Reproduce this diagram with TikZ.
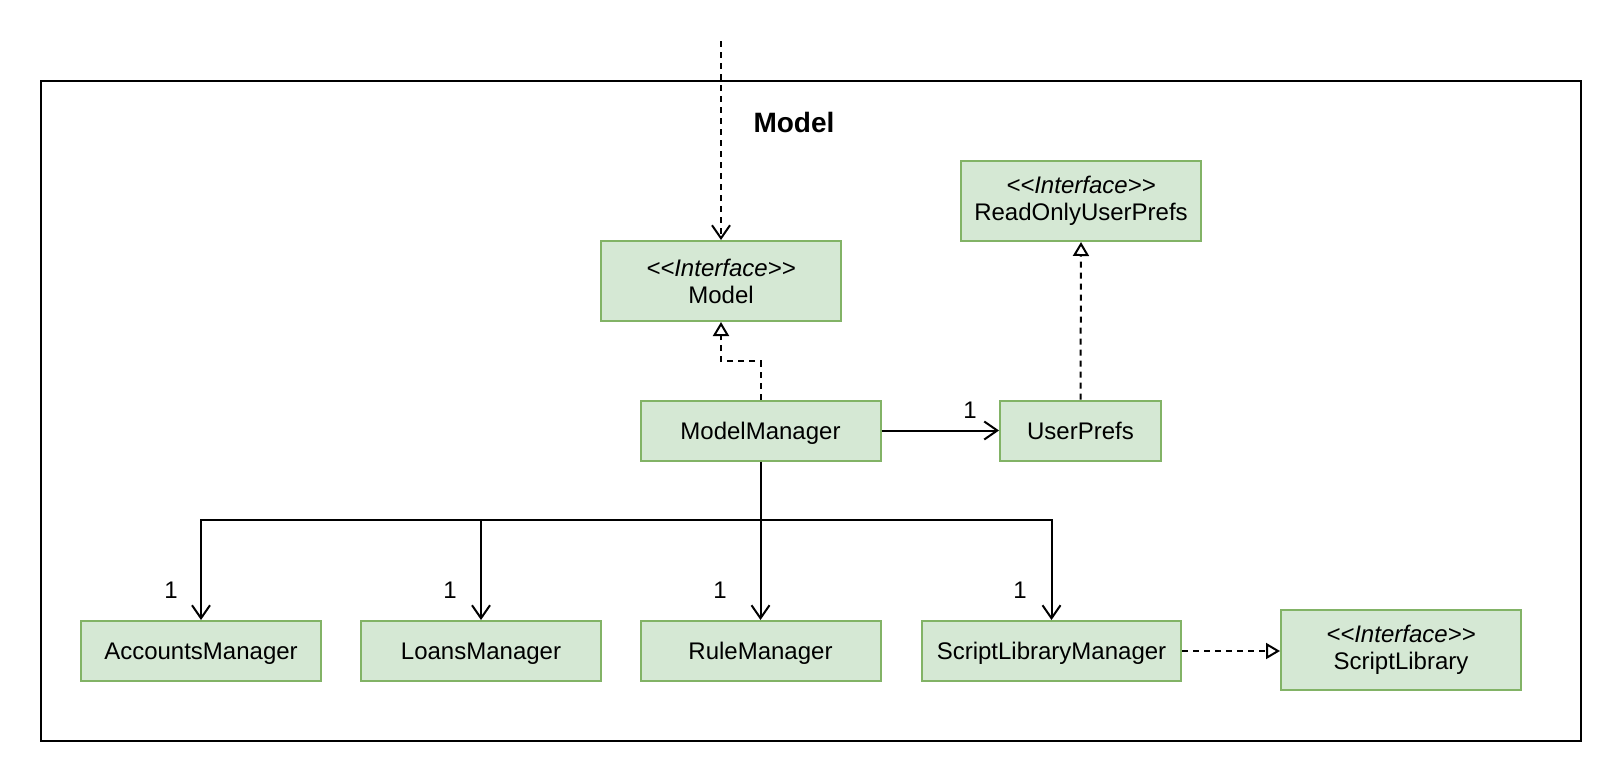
\documentclass[tikz,border=0pt]{standalone}
\usepackage{fontspec}
\setmainfont{Liberation Sans}
\usepackage{xcolor}
\usepackage{tikz}
\usetikzlibrary{arrows.meta,positioning}
\definecolor{boxfill}{HTML}{D5E8D4}
\definecolor{boxline}{HTML}{82B366}

\begin{document}
\begin{tikzpicture}[
          x=0.5pt, y=-0.5pt,
          every node/.style={font=\fontsize{12}{13.5}\selectfont},
          box/.style={draw=boxline, fill=boxfill, line width=1pt, minimum width=120pt, inner sep=0pt, align=center},
          cls/.style={box, minimum height=30pt, text height=11pt, text depth=2.4pt},
          iface/.style={box, minimum height=40pt},
          assoc/.style={line width=1pt, -{Straight Barb[length=6.5pt,width=9pt]}},
          dep/.style={assoc, dash pattern=on 3pt off 2.5pt},
          real/.style={line width=1pt, dash pattern=on 3pt off 2.5pt, -{Triangle[open,length=7pt,width=8pt,fill=white]}},
          mult/.style={inner sep=0pt}
      ]
        \useasboundingbox (0,0) rectangle (1622,782);
        \draw[line width=1pt] (41,81) rectangle (1581,741);
        \node[font=\fontsize{14}{16}\selectfont\bfseries] (title) at (794,122) {Model};

        % interfaces
        \node[iface] (model) at (721,281) {\textit{<{}<Interface>{}>}\\Model};
        \node[iface] (roprefs) at (1081,201) {\textit{<{}<Interface>{}>}\\ReadOnlyUserPrefs};
        \node[iface] (scriptlib) at (1401,650) {\textit{<{}<Interface>{}>}\\ScriptLibrary};

        % classes
        \node[cls] (mgr) at (760.5,430.5) {ModelManager};
        \node[cls, minimum width=80.5pt] (prefs) at (1080.5,430.5) {UserPrefs};
        \node[cls] (accounts) at (201,651) {AccountsManager};
        \node[cls] (loans) at (481,651) {LoansManager};
        \node[cls] (rule) at (760.5,651) {RuleManager};
        \node[cls, minimum width=129.5pt] (scriptmgr) at (1051.5,651) {ScriptLibraryManager};

        \coordinate (top) at (721,41);
        \coordinate (bend) at (721,361);
        \coordinate (bus) at (760.5,520);

        \draw[dep] (top) -- (model.north);
        \draw[real] (mgr.north) |- (bend) -- (model.south);
        \draw[real] (prefs.north) -- (roprefs.south);
        \draw[real] (scriptmgr.east) -- (scriptlib.west |- scriptmgr.east);
        \draw[assoc] (mgr.east) -- (prefs.west);
        \draw[assoc] (mgr.south) -- (rule.north);
        \foreach \n in {accounts,loans,scriptmgr} {
          \draw[assoc] (bus) -| (\n.north);
        }

        % multiplicities
        \node[mult] (m0) at (970,410) {1};
        \node[mult] (m1) at (171,590) {1};
        \node[mult] (m2) at (450,590) {1};
        \node[mult] (m3) at (720,590) {1};
        \node[mult] (m4) at (1020,590) {1};
      \end{tikzpicture}
\end{document}
